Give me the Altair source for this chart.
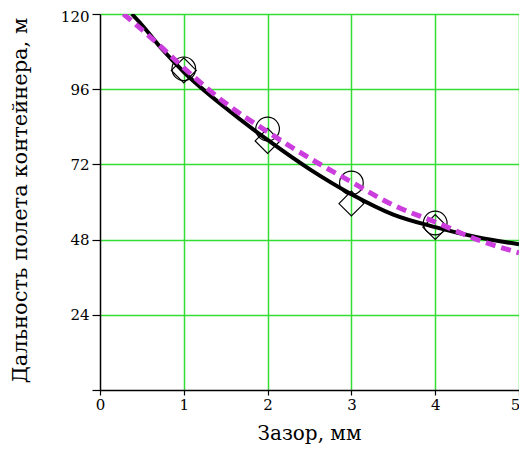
import altair as alt
import pandas as pd

# Measured points
pts_x = [1, 2, 3, 4]
circle_y = [102.5, 83.3, 66.1, 53.3]
diamond_y = [102.0, 79.5, 59.5, 52.0]

# Black solid curve
black_x = [0.38, 0.5, 0.75, 1.0, 1.5, 2.0, 2.5, 3.0, 3.5, 4.0, 4.5, 5.0]
black_y = [120, 116.5, 108.5, 101.5, 90.0, 79.8, 70.5, 62.5, 56.0, 52.0, 48.8, 46.5]

# Magenta dashed curve
mag_x = [0.28, 0.5, 0.75, 1.0, 1.5, 2.0, 2.5, 3.0, 3.5, 4.0, 4.5, 5.0]
mag_y = [120, 115.0, 109.0, 102.8, 91.5, 82.4, 74.0, 66.4, 59.0, 53.6, 48.0, 43.8]

x_ticks = [0, 1, 2, 3, 4, 5]
y_ticks = [0, 24, 48, 72, 96, 120]

pts = pd.DataFrame({"x": pts_x, "c": circle_y, "d": diamond_y})
black = pd.DataFrame({"x": black_x, "y": black_y})
mag = pd.DataFrame({"x": mag_x, "y": mag_y})

FONT = "DejaVu Serif"
GRID = "#33dd33"

xscale = alt.Scale(domain=[0, 5], nice=False, zero=False)
yscale = alt.Scale(domain=[0, 120], nice=False, zero=False)

xaxis = alt.Axis(
    values=x_ticks, format="d", title="Зазор, мм", grid=True, gridColor=GRID, gridWidth=1.5,
    gridOpacity={"condition": {"test": "datum.value === 0", "value": 0}, "value": 1},
    labelOffset={"condition": {"test": "datum.value === 5", "value": -4}, "value": 0},
    domainColor="black", domainWidth=1.5, tickColor="black", tickWidth=1.2, tickSize=5,
    labelFont=FONT, labelFontSize=15, labelColor="black", labelPadding=2,
    labelFlush=False, labelOverlap=False,
    titleFont=FONT, titleFontSize=20, titleFontWeight="normal", titleColor="black",
    titleX=209, titleY=43, titleBaseline="middle", titleAlign="center",
)
yaxis = alt.Axis(
    values=y_ticks, format="d", title="Дальность полета контейнера, м", grid=True,
    gridColor=GRID, gridWidth=1.5,
    gridOpacity={"condition": {"test": "datum.value === 0", "value": 0}, "value": 1},
    labelExpr="datum.value === 0 ? '' : datum.label",
    labelOffset={"condition": {"test": "datum.value === 120", "value": 2}, "value": 0},
    domainColor="black", domainWidth=1.5, tickColor="black", tickWidth=1.2, tickSize=8,
    labelFont=FONT, labelFontSize=15, labelColor="black", labelPadding=3,
    labelFlush=False, labelOverlap=False,
    titleFont=FONT, titleFontSize=21, titleFontWeight="normal", titleColor="black",
    titleX=-80, titleY=186, titleAngle=-90, titleBaseline="middle", titleAlign="center",
)

base_pts = alt.Chart(pts)
circles = base_pts.mark_point(shape="circle", size=560, filled=False, color="black",
                              strokeWidth=1.2, opacity=1).encode(
    x=alt.X("x:Q", scale=xscale, axis=xaxis),
    y=alt.Y("c:Q", scale=yscale, axis=yaxis),
)
diamonds = base_pts.mark_point(shape="diamond", size=620, filled=False, color="black",
                               strokeWidth=1.2, opacity=1).encode(
    x=alt.X("x:Q", scale=xscale),
    y=alt.Y("d:Q", scale=yscale),
)
black_line = alt.Chart(black).mark_line(color="black", strokeWidth=4, clip=True,
                                        interpolate="monotone").encode(
    x=alt.X("x:Q", scale=xscale),
    y=alt.Y("y:Q", scale=yscale),
)
mag_line = alt.Chart(mag).mark_line(color="#cc3ddd", strokeWidth=5, strokeDash=[10, 6],
                                    clip=True, interpolate="monotone").encode(
    x=alt.X("x:Q", scale=xscale),
    y=alt.Y("y:Q", scale=yscale),
)

chart = alt.layer(circles, diamonds, black_line, mag_line).properties(
    width=419, height=376,
    autosize=alt.AutoSizeParams(type="none"),
    padding={"left": 92, "top": 6, "right": 0, "bottom": 56},
).configure_view(stroke=None).configure(background="white")

chart.save("out.html", embed_options={"renderer": "svg", "actions": False})
